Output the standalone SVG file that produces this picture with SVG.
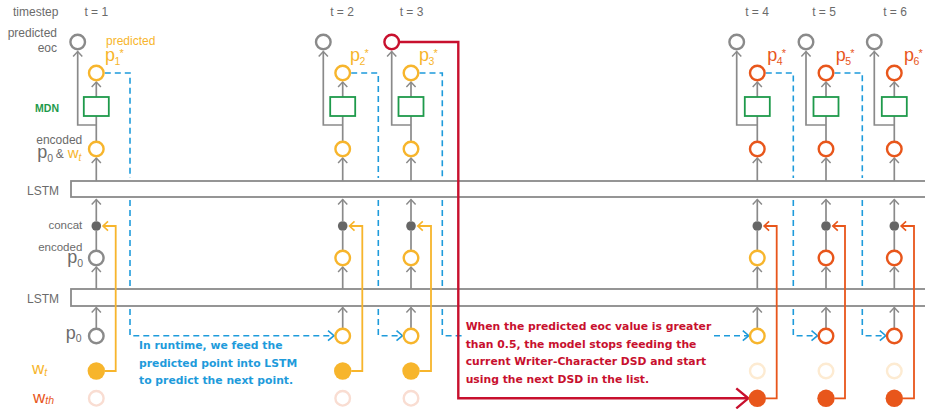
<svg xmlns="http://www.w3.org/2000/svg" width="925" height="409" viewBox="0 0 925 409">
<style>
.lbl{font-family:"Liberation Sans",Arial,sans-serif;font-size:12px;fill:#6b6b6b}
.end{text-anchor:end}
.mid{text-anchor:middle}
.yl{fill:#F7B52C}
.or{fill:#E8561B}
.it{font-style:italic}
.mdnl{font-size:10.5px;font-weight:bold;fill:#1E9A4B}
.para{font-family:"DejaVu Sans","Liberation Sans",sans-serif;font-size:10.8px;font-weight:bold}
.lstm{fill:#fff;stroke:#8a8a8a;stroke-width:1.8}
.cg{fill:#fff;stroke:#8a8a8a;stroke-width:2.4}
.cy{fill:#fff;stroke:#F7B52C;stroke-width:2.4}
.co{fill:#fff;stroke:#E8561B;stroke-width:2.4}
.cr{fill:#fff;stroke:#C8102E;stroke-width:2.4}
.fy{fill:#F7B52C}
.fo{fill:#E8561B}
.fp{fill:#fff;stroke:#F9DDD2;stroke-width:2.4}
.fc{fill:#fff;stroke:#FDEBD2;stroke-width:2.4}
.mdn{fill:#fff;stroke:#1E9A4B;stroke-width:1.8}
.dot{fill:#666}
.ga{fill:none;stroke:#8a8a8a;stroke-width:1.7}
.gam{marker-end:url(#ag)}
.fdy{fill:none;stroke:#F7B52C;stroke-width:1.8;marker-end:url(#ay)}
.fdo{fill:none;stroke:#E8561B;stroke-width:1.8;marker-end:url(#ao)}
.dash{fill:none;stroke:#1E9BDB;stroke-width:1.6;stroke-dasharray:6 4;marker-end:url(#ab)}
.red{fill:none;stroke:#C8102E;stroke-width:2.4;marker-end:url(#ar)}
.pb{font-size:18px}
.ps{font-size:10.5px}
.st{font-size:11px}
</style>
<defs>
<marker id="ag" markerUnits="userSpaceOnUse" markerWidth="14" markerHeight="14" viewBox="-7 -7 14 14" refX="0" refY="0" orient="auto"><path d="M-5,-4.6 L0,0 L-5,4.6" fill="none" stroke="#8a8a8a" stroke-width="1.5"/></marker>
<marker id="ay" markerUnits="userSpaceOnUse" markerWidth="14" markerHeight="14" viewBox="-7 -7 14 14" refX="0" refY="0" orient="auto"><path d="M-5,-4.6 L0,0 L-5,4.6" fill="none" stroke="#F7B52C" stroke-width="1.6"/></marker>
<marker id="ao" markerUnits="userSpaceOnUse" markerWidth="14" markerHeight="14" viewBox="-7 -7 14 14" refX="0" refY="0" orient="auto"><path d="M-5,-4.6 L0,0 L-5,4.6" fill="none" stroke="#E8561B" stroke-width="1.6"/></marker>
<marker id="ab" markerUnits="userSpaceOnUse" markerWidth="14" markerHeight="14" viewBox="-7 -7 14 14" refX="0" refY="0" orient="auto"><path d="M-6,-5 L0,0 L-6,5" fill="none" stroke="#1E9BDB" stroke-width="1.6"/></marker>
<marker id="ar" markerUnits="userSpaceOnUse" markerWidth="28" markerHeight="28" viewBox="-14 -14 28 28" refX="0" refY="0" orient="auto"><path d="M-12,-10 L0,0 L-12,10" fill="none" stroke="#C8102E" stroke-width="2.4"/></marker>
</defs>
<rect width="925" height="409" fill="#fff"/>

<g id="labels">
<text class="lbl" x="13" y="15.7">timestep</text>
<text class="lbl mid" x="96.3" y="15.7">t = 1</text>
<text class="lbl mid" x="342" y="15.7">t = 2</text>
<text class="lbl mid" x="411.5" y="15.7">t = 3</text>
<text class="lbl mid" x="757" y="15.7">t = 4</text>
<text class="lbl mid" x="824" y="15.7">t = 5</text>
<text class="lbl mid" x="895" y="15.7">t = 6</text>
<text class="lbl end" x="57" y="36.5">predicted</text>
<text class="lbl end" x="57" y="51.5">eoc</text>
<text class="lbl yl" x="106" y="45.2">predicted</text>
<text class="lbl mdnl end" x="59" y="111.5">MDN</text>
<text class="lbl end" x="82.3" y="144.3">encoded</text>
<text class="lbl" x="37.3" y="158.3"><tspan class="pb">p</tspan><tspan class="ps" dy="3.4">0</tspan><tspan dy="-3.4" dx="2.5">&amp;</tspan><tspan class="yl" style="font-size:15px" dx="4">w</tspan><tspan class="yl it" style="font-size:10px" dy="2.5">t</tspan></text>
<text class="lbl end" x="59" y="195">LSTM</text>
<text class="lbl end" x="82.3" y="229" style="font-size:11.5px">concat</text>
<text class="lbl end" x="82.3" y="250.7" style="font-size:11.5px">encoded</text>
<text class="lbl" x="67.3" y="262.8"><tspan class="pb">p</tspan><tspan class="ps" dy="3.9">0</tspan></text>
<text class="lbl end" x="59" y="302.7">LSTM</text>
<text class="lbl" x="65.7" y="338.6"><tspan class="pb">p</tspan><tspan class="ps" dy="3.1">0</tspan></text>
<text class="lbl yl" x="32" y="374.3"><tspan style="font-size:17px">w</tspan><tspan class="it" style="font-size:10.5px" dy="1.7">t</tspan></text>
<text class="lbl or" x="33" y="402.5"><tspan style="font-size:17px">w</tspan><tspan class="it" style="font-size:10.5px" dy="1.5">th</tspan></text>
<text class="lbl yl" x="105" y="60.8"><tspan class="pb">p</tspan><tspan class="ps" dy="4" dx="-0.5">1</tspan><tspan class="st" dx="-0.8" dy="-8">*</tspan></text>
<text class="lbl yl" x="350" y="61"><tspan class="pb">p</tspan><tspan class="ps" dy="4" dx="-0.5">2</tspan><tspan class="st" dx="-0.8" dy="-8">*</tspan></text>
<text class="lbl yl" x="419" y="61"><tspan class="pb">p</tspan><tspan class="ps" dy="4" dx="-0.5">3</tspan><tspan class="st" dx="-0.8" dy="-8">*</tspan></text>
<text class="lbl or" x="767.3" y="61"><tspan class="pb">p</tspan><tspan class="ps" dy="4" dx="-0.5">4</tspan><tspan class="st" dx="-0.8" dy="-8">*</tspan></text>
<text class="lbl or" x="835.7" y="61"><tspan class="pb">p</tspan><tspan class="ps" dy="4" dx="-0.5">5</tspan><tspan class="st" dx="-0.8" dy="-8">*</tspan></text>
<text class="lbl or" x="904" y="61"><tspan class="pb">p</tspan><tspan class="ps" dy="4" dx="-0.5">6</tspan><tspan class="st" dx="-0.8" dy="-8">*</tspan></text>
<text class="para" fill="#1E9BDB"><tspan x="139" y="349.3">In runtime, we feed the</tspan><tspan x="139" y="366.7">predicted point into LSTM</tspan><tspan x="139" y="384">to predict the next point.</tspan></text>
<text class="para" fill="#C8102E"><tspan x="465.7" y="330">When the predicted eoc value is greater</tspan><tspan x="465.7" y="347.7">than 0.5, the model stops feeding the</tspan><tspan x="465.7" y="365">current Writer-Character DSD and start</tspan><tspan x="465.7" y="382.7">using the next DSD in the list.</tspan></text>
</g>

<g id="lstm-1"><rect class="lstm" x="71" y="181" width="900" height="16"/></g>
<g id="lstm-2"><rect class="lstm" x="71" y="289" width="900" height="17"/></g>

<g id="connectors">
<path class="dash" d="M104.8,73 H130 V178 M130,200 V286 M130,309 V335.7 H334"/>
<path class="dash" d="M351.2,73 H378.3 V178 M378.3,200 V286 M378.3,309 V335.7 H402.5"/>
<path class="dash" d="M419.5,73 H442.3 V178 M442.3,200 V286 M442.3,309 V335.7 H463 M714,335.7 H748.8"/>
<path class="dash" d="M765.8,73 H793.3 V178 M793.3,200 V286 M793.3,309 V335.7 H817.5"/>
<path class="dash" d="M834.5,73 H862.3 V178 M862.3,200 V286 M862.3,309 V335.7 H885.8"/>

<path class="ga gam" d="M96.3,125 H77.7 V51.5"/>
<path class="ga" d="M96.3,141 V116 M96.3,250 V231"/>
<path class="ga gam" d="M96.3,97 V82"/>
<path class="ga gam" d="M96.3,181 V158"/>
<path class="ga gam" d="M96.3,221 V199.5"/>
<path class="ga gam" d="M96.3,289 V267"/>
<path class="ga gam" d="M96.3,328 V307.5"/>

<path class="ga gam" d="M342.7,125 H323.3 V51.5"/>
<path class="ga" d="M342.7,141 V116 M342.7,250 V231"/>
<path class="ga gam" d="M342.7,97 V82"/>
<path class="ga gam" d="M342.7,181 V158"/>
<path class="ga gam" d="M342.7,221 V199.5"/>
<path class="ga gam" d="M342.7,289 V267"/>
<path class="ga gam" d="M342.7,328 V307.5"/>

<path class="ga gam" d="M411,125 H391.7 V51.5"/>
<path class="ga" d="M411,141 V116 M411,250 V231"/>
<path class="ga gam" d="M411,97 V82"/>
<path class="ga gam" d="M411,181 V158"/>
<path class="ga gam" d="M411,221 V199.5"/>
<path class="ga gam" d="M411,289 V267"/>
<path class="ga gam" d="M411,328 V307.5"/>

<path class="ga gam" d="M757.3,125 H736.7 V51.5"/>
<path class="ga" d="M757.3,141 V116 M757.3,250 V231"/>
<path class="ga gam" d="M757.3,97 V82"/>
<path class="ga gam" d="M757.3,181 V158"/>
<path class="ga gam" d="M757.3,221 V199.5"/>
<path class="ga gam" d="M757.3,289 V267"/>
<path class="ga gam" d="M757.3,328 V307.5"/>

<path class="ga gam" d="M826,125 H806 V51.5"/>
<path class="ga" d="M826,141 V116 M826,250 V231"/>
<path class="ga gam" d="M826,97 V82"/>
<path class="ga gam" d="M826,181 V158"/>
<path class="ga gam" d="M826,221 V199.5"/>
<path class="ga gam" d="M826,289 V267"/>
<path class="ga gam" d="M826,328 V307.5"/>

<path class="ga gam" d="M894.3,125 H874.3 V51.5"/>
<path class="ga" d="M894.3,141 V116 M894.3,250 V231"/>
<path class="ga gam" d="M894.3,97 V82"/>
<path class="ga gam" d="M894.3,181 V158"/>
<path class="ga gam" d="M894.3,221 V199.5"/>
<path class="ga gam" d="M894.3,289 V267"/>
<path class="ga gam" d="M894.3,328 V307.5"/>

<path class="fdy" d="M104.8,371 H115.7 V226 H103"/>
<path class="fdy" d="M351.2,371 H362.3 V226 H349.5"/>
<path class="fdy" d="M419.5,371 H431 V226 H417.8"/>
<path class="fdo" d="M765.8,398.3 H776.7 V226 H764.1"/>
<path class="fdo" d="M834.5,398.3 H845 V226 H832.8"/>
<path class="fdo" d="M902.8,398.3 H914 V226 H901.1"/>

<path class="red" d="M399,42 H458.3 V398.3 H748.3"/>
</g>

<g id="t1-eoc"><circle class="cg" cx="77.7" cy="42" r="7.3"/></g>
<g id="t1-pred"><circle class="cy" cx="96.3" cy="73" r="7.3"/></g>
<g id="t1-mdn"><rect class="mdn" x="83.8" y="97" width="25" height="19"/></g>
<g id="t1-enc"><circle class="cy" cx="96.3" cy="149" r="7.3"/></g>
<g id="t1-concat"><circle class="dot" cx="96.3" cy="226" r="4.8"/></g>
<g id="t1-encp0"><circle class="cg" cx="96.3" cy="258" r="7.3"/></g>
<g id="t1-p0"><circle class="cg" cx="96.3" cy="336" r="7.3"/></g>
<g id="t1-wt"><circle class="fy" cx="96.3" cy="371" r="8.7"/></g>
<g id="t1-wth"><circle class="fp" cx="96.3" cy="398.3" r="7.3"/></g>

<g id="t2-eoc"><circle class="cg" cx="323.3" cy="42" r="7.3"/></g>
<g id="t2-pred"><circle class="cy" cx="342.7" cy="73" r="7.3"/></g>
<g id="t2-mdn"><rect class="mdn" x="330.2" y="97" width="25" height="19"/></g>
<g id="t2-enc"><circle class="cy" cx="342.7" cy="149" r="7.3"/></g>
<g id="t2-concat"><circle class="dot" cx="342.7" cy="226" r="4.8"/></g>
<g id="t2-encp0"><circle class="cy" cx="342.7" cy="258" r="7.3"/></g>
<g id="t2-p0"><circle class="cy" cx="342.7" cy="336" r="7.3"/></g>
<g id="t2-wt"><circle class="fy" cx="342.7" cy="371" r="8.7"/></g>
<g id="t2-wth"><circle class="fp" cx="342.7" cy="398.3" r="7.3"/></g>

<g id="t3-eoc"><circle class="cr" cx="391.7" cy="42" r="7.3"/></g>
<g id="t3-pred"><circle class="cy" cx="411" cy="73" r="7.3"/></g>
<g id="t3-mdn"><rect class="mdn" x="398.5" y="97" width="25" height="19"/></g>
<g id="t3-enc"><circle class="cy" cx="411" cy="149" r="7.3"/></g>
<g id="t3-concat"><circle class="dot" cx="411" cy="226" r="4.8"/></g>
<g id="t3-encp0"><circle class="cy" cx="411" cy="258" r="7.3"/></g>
<g id="t3-p0"><circle class="cy" cx="411" cy="336" r="7.3"/></g>
<g id="t3-wt"><circle class="fy" cx="411" cy="371" r="8.7"/></g>
<g id="t3-wth"><circle class="fp" cx="411" cy="398.3" r="7.3"/></g>

<g id="t4-eoc"><circle class="cg" cx="736.7" cy="42" r="7.3"/></g>
<g id="t4-pred"><circle class="co" cx="757.3" cy="73" r="7.3"/></g>
<g id="t4-mdn"><rect class="mdn" x="744.8" y="97" width="25" height="19"/></g>
<g id="t4-enc"><circle class="co" cx="757.3" cy="149" r="7.3"/></g>
<g id="t4-concat"><circle class="dot" cx="757.3" cy="226" r="4.8"/></g>
<g id="t4-encp0"><circle class="cy" cx="757.3" cy="258" r="7.3"/></g>
<g id="t4-p0"><circle class="cy" cx="757.3" cy="336" r="7.3"/></g>
<g id="t4-wt"><circle class="fc" cx="757.3" cy="371" r="7.3"/></g>
<g id="t4-wth"><circle class="fo" cx="757.3" cy="398.3" r="8.7"/></g>

<g id="t5-eoc"><circle class="cg" cx="806" cy="42" r="7.3"/></g>
<g id="t5-pred"><circle class="co" cx="826" cy="73" r="7.3"/></g>
<g id="t5-mdn"><rect class="mdn" x="813.5" y="97" width="25" height="19"/></g>
<g id="t5-enc"><circle class="co" cx="826" cy="149" r="7.3"/></g>
<g id="t5-concat"><circle class="dot" cx="826" cy="226" r="4.8"/></g>
<g id="t5-encp0"><circle class="co" cx="826" cy="258" r="7.3"/></g>
<g id="t5-p0"><circle class="co" cx="826" cy="336" r="7.3"/></g>
<g id="t5-wt"><circle class="fc" cx="826" cy="371" r="7.3"/></g>
<g id="t5-wth"><circle class="fo" cx="826" cy="398.3" r="8.7"/></g>

<g id="t6-eoc"><circle class="cg" cx="874.3" cy="42" r="7.3"/></g>
<g id="t6-pred"><circle class="co" cx="894.3" cy="73" r="7.3"/></g>
<g id="t6-mdn"><rect class="mdn" x="881.8" y="97" width="25" height="19"/></g>
<g id="t6-enc"><circle class="co" cx="894.3" cy="149" r="7.3"/></g>
<g id="t6-concat"><circle class="dot" cx="894.3" cy="226" r="4.8"/></g>
<g id="t6-encp0"><circle class="co" cx="894.3" cy="258" r="7.3"/></g>
<g id="t6-p0"><circle class="co" cx="894.3" cy="336" r="7.3"/></g>
<g id="t6-wt"><circle class="fc" cx="894.3" cy="371" r="7.3"/></g>
<g id="t6-wth"><circle class="fo" cx="894.3" cy="398.3" r="8.7"/></g>
</svg>
